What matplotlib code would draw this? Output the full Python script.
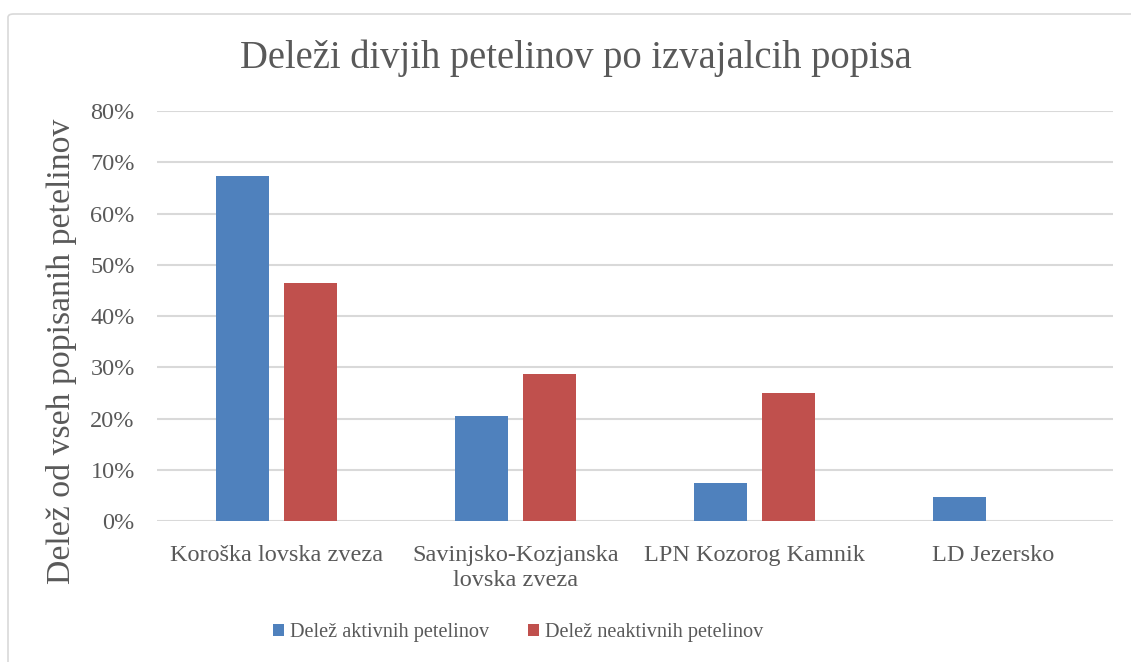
import numpy as np
import matplotlib.pyplot as plt
from matplotlib.patches import FancyBboxPatch
from matplotlib.ticker import PercentFormatter

categories = ['Koroška lovska zveza', 'Savinjsko-Kozjanska\nlovska zveza',
              'LPN Kozorog Kamnik', 'LD Jezersko']
aktivni = [67.3, 20.4, 7.4, 4.6]
neaktivni = [46.4, 28.6, 25.0, 0.0]
yticks = [0, 10, 20, 30, 40, 50, 60, 70, 80]

blue = '#4f81bd'
red = '#c0504d'
txt = '#595959'
grid = '#d9d9d9'
font = 'Liberation Serif'

plt.rcParams['font.family'] = [font, 'DejaVu Serif']

fig = plt.figure(figsize=(11.31, 6.62), dpi=100)
# chart area border
fig.patches.append(FancyBboxPatch((8 / 1131, -0.05), 1.1, 1 - 14 / 662 + 0.05,
                                  boxstyle='round,pad=0,rounding_size=0.005',
                                  transform=fig.transFigure, fill=False,
                                  edgecolor=grid, linewidth=1.2))

ax = fig.add_axes([157 / 1131, 1 - 521 / 662, (1113 - 157) / 1131, (521 - 111) / 662])

x = np.arange(len(categories))
w = 0.222
off = 0.142
ax.bar(x - off, aktivni, w, color=blue, label='Delež aktivnih petelinov', zorder=3)
ax.bar(x + off, neaktivni, w, color=red, label='Delež neaktivnih petelinov', zorder=3)

ax.set_xlim(-0.5, 3.5)
ax.set_ylim(0, 80)
ax.set_yticks(yticks)
ax.yaxis.set_major_formatter(PercentFormatter(decimals=0))
ax.set_xticks(x)
ax.set_xticklabels(categories, linespacing=1.25)
ax.grid(axis='y', color=grid, linewidth=1.5, zorder=0)
ax.tick_params(length=0, labelsize=17.5, colors=txt)
ax.tick_params(axis='y', pad=16)
ax.tick_params(axis='x', pad=17)
for s in ax.spines.values():
    s.set_visible(False)

fig.text(62 / 1131, 1 - 351 / 662, 'Delež od vseh popisanih petelinov', rotation=90,
         ha='center', va='center', fontsize=24.3, color=txt)
fig.text(576 / 1131, 1 - 58 / 662, 'Deleži divjih petelinov po izvajalcih popisa',
         ha='center', va='center', fontsize=27.8, color=txt)

fig.legend(loc='center', bbox_to_anchor=(518 / 1131, 1 - 633 / 662), ncol=2, frameon=False,
           fontsize=14.6, labelcolor=txt, handlelength=0.55, handleheight=0.55,
           handletextpad=0.3, columnspacing=1.9)

plt.savefig('out.png', dpi=100)
